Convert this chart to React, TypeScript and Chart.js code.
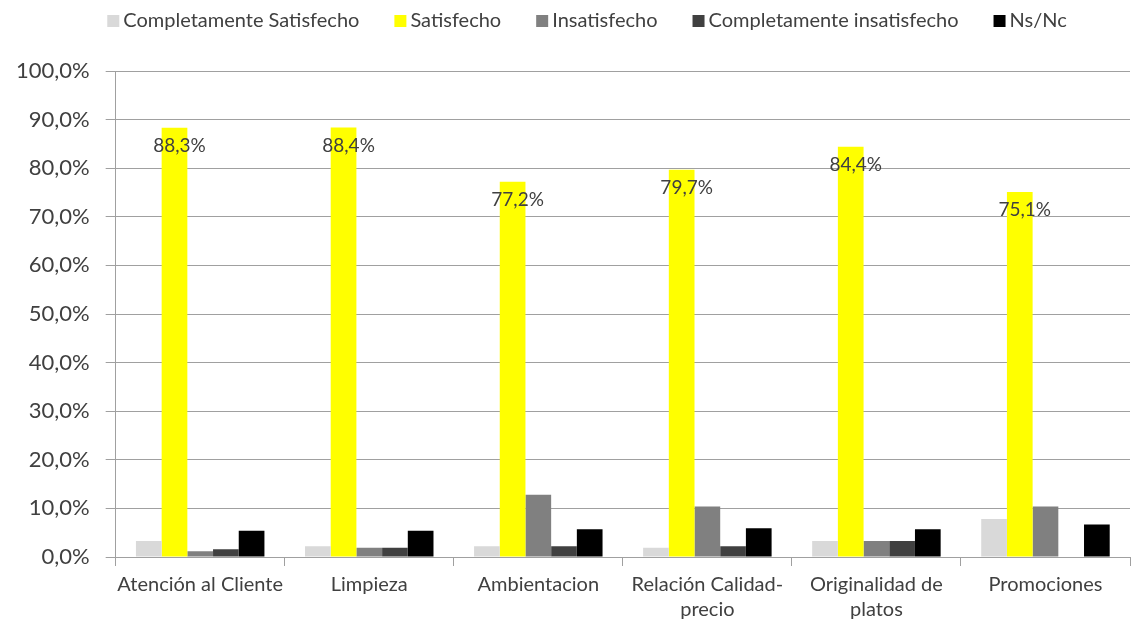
import React, { useEffect, useRef } from "react";
import { Chart, registerables } from "chart.js";

Chart.register(...registerables);

const categories: (string | string[])[] = [
  "Atención al Cliente",
  "Limpieza",
  "Ambientacion",
  ["Relación Calidad-", "precio"],
  ["Originalidad de", "platos"],
  "Promociones",
];

const completamenteSatisfecho = [3.3, 2.2, 2.2, 1.9, 3.3, 7.8];
const satisfecho = [88.3, 88.4, 77.2, 79.7, 84.4, 75.1];
const insatisfecho = [1.2, 1.9, 12.8, 10.4, 3.3, 10.4];
const completamenteInsatisfecho = [1.6, 1.9, 2.2, 2.2, 3.3, 0];
const nsnc = [5.4, 5.4, 5.7, 5.9, 5.7, 6.7];

const seriesNames = [
  "Completamente Satisfecho",
  "Satisfecho",
  "Insatisfecho",
  "Completamente insatisfecho",
  "Ns/Nc",
];
const seriesColors = ["#d9d9d9", "#ffff00", "#808080", "#404040", "#000000"];

const FONT = "Lato, 'Open Sans', sans-serif";
const TEXT = "#404040";

const fmt = (v: number) => v.toFixed(1).replace(".", ",") + "%";

const labelPlugin = {
  id: "satLabels",
  afterDatasetsDraw(chart: any) {
    const meta = chart.getDatasetMeta(1);
    const ctx = chart.ctx;
    ctx.save();
    ctx.font = `19px ${FONT}`;
    ctx.fillStyle = TEXT;
    ctx.textAlign = "center";
    ctx.textBaseline = "middle";
    meta.data.forEach((bar: any, i: number) => {
      ctx.fillText(fmt(satisfecho[i]), bar.x + 5, bar.y + 18);
    });
    ctx.restore();
  },
};

const legendPlugin = {
  id: "customLegend",
  afterDraw(chart: any) {
    const ctx = chart.ctx;
    ctx.save();
    ctx.font = `20px ${FONT}`;
    ctx.textBaseline = "middle";
    ctx.textAlign = "left";
    const box = 12;
    const gapText = 4;
    const gapItem = 35;
    const widths = seriesNames.map((n) => ctx.measureText(n).width);
    const total =
      widths.reduce((a: number, b: number) => a + b, 0) +
      seriesNames.length * (box + gapText) +
      (seriesNames.length - 1) * gapItem;
    let x = 587 - total / 2;
    const cy = 21;
    seriesNames.forEach((n, i) => {
      ctx.fillStyle = seriesColors[i];
      ctx.fillRect(x, cy - box / 2, box, box);
      ctx.fillStyle = TEXT;
      ctx.fillText(n, x + box + gapText, cy);
      x += box + gapText + widths[i] + gapItem;
    });
    ctx.restore();
  },
};

export default function App() {
  const ref = useRef<HTMLCanvasElement>(null);
  useEffect(() => {
    document.body.style.margin = "0";
    const data = [
      completamenteSatisfecho,
      satisfecho,
      insatisfecho,
      completamenteInsatisfecho,
      nsnc,
    ];
    const chart = new Chart(ref.current!, {
      type: "bar",
      data: {
        labels: categories,
        datasets: data.map((d, i) => ({
          label: seriesNames[i],
          data: d,
          backgroundColor: seriesColors[i],
          borderWidth: 0,
          categoryPercentage: 0.76,
          barPercentage: 1,
        })),
      },
      options: {
        animation: false,
        responsive: true,
        maintainAspectRatio: false,
        layout: { padding: { left: 0, right: 1, top: 71, bottom: -6 } },
        plugins: {
          tooltip: { enabled: false },
          legend: { display: false },
        },
        scales: {
          x: {
            grid: {
              offset: true,
              drawOnChartArea: false,
              drawTicks: true,
              tickLength: 9,
              color: "#a0a0a0",
            },
            border: { color: "#a0a0a0" },
            ticks: {
              font: { family: FONT, size: 20, lineHeight: 1.25 },
              color: TEXT,
              maxRotation: 0,
              autoSkip: false,
              padding: 6,
            },
          },
          y: {
            min: 0,
            max: 100,
            grid: { color: "#a0a0a0", tickLength: 10 },
            border: { color: "#a0a0a0" },
            ticks: {
              stepSize: 10,
              font: { family: FONT, size: 22 },
              color: TEXT,
              padding: 16,
              callback: (v: any) => fmt(Number(v)),
            },
          },
        },
      },
      plugins: [labelPlugin, legendPlugin],
    });
    return () => chart.destroy();
  }, []);
  return (
    <div style={{ width: 1131, height: 622, position: "relative" }}>
      <canvas ref={ref} />
    </div>
  );
}
